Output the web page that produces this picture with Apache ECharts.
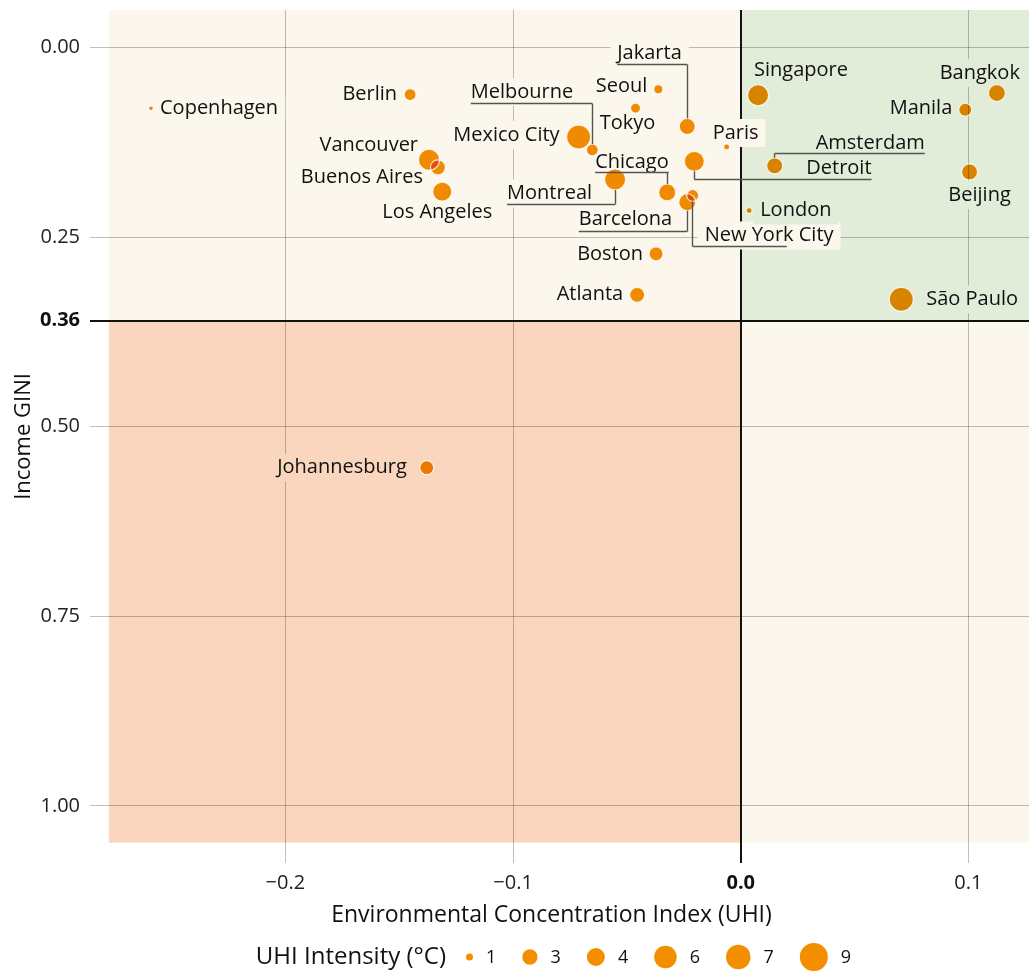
<!DOCTYPE html>
<html>
<head>
<meta charset="utf-8">
<script src="https://cdn.jsdelivr.net/npm/echarts@6/dist/echarts.min.js"></script>
<style>
  html, body { margin: 0; padding: 0; background: #ffffff; }
  #chart { width: 1029px; height: 971px; }
</style>
</head>
<body>
<div id="chart"></div>
<script>
// ---- data -------------------------------------------------------------
const cities = ['Copenhagen', 'Berlin', 'Vancouver', 'Buenos Aires', 'Los Angeles', 'Johannesburg',
  'Mexico City', 'Melbourne', 'Seoul', 'Tokyo', 'Jakarta', 'Chicago', 'Montreal', 'Barcelona',
  'New York City', 'Detroit', 'Paris', 'London', 'Boston', 'Atlanta', 'Singapore', 'Bangkok',
  'Manila', 'Beijing', 'São Paulo', 'Amsterdam'];
// Environmental Concentration Index (UHI)
const eci = [-0.2590, -0.1452, -0.1369, -0.1330, -0.1311, -0.1379,
  -0.0712, -0.0652, -0.0362, -0.0462, -0.0235, -0.0323, -0.0552, -0.0235,
  -0.0211, -0.0204, -0.0062, 0.0037, -0.0372, -0.0455, 0.0076, 0.1125,
  0.0986, 0.1005, 0.0705, 0.0149];
// Income GINI
const gini = [0.080, 0.062, 0.148, 0.158, 0.190, 0.554,
  0.118, 0.135, 0.055, 0.080, 0.104, 0.191, 0.174, 0.204,
  0.195, 0.150, 0.131, 0.215, 0.272, 0.326, 0.063, 0.060,
  0.082, 0.164, 0.332, 0.156];
// UHI intensity (°C)
const uhi = [0.7, 2.0, 5.3, 2.9, 4.4, 2.6,
  6.7, 2.0, 1.35, 1.55, 3.25, 3.6, 5.3, 3.6,
  2.0, 4.8, 0.86, 0.86, 2.6, 2.9, 5.3, 3.6,
  2.3, 3.25, 6.7, 3.25];

const xTicks = [-0.2, -0.1, 0, 0.1];
const yGridTicks = [0, 0.25, 0.5, 0.75, 1];
const yTickLabels = [0, 0.25, 0.36, 0.5, 0.75, 1];
const legendValues = [1, 3, 4, 6, 7, 9];
const ECI_SPLIT = 0;      // quadrant split on the x axis
const GINI_SPLIT = 0.36;  // quadrant split on the y axis

// ---- layout & style ---------------------------------------------------
const X_MIN = -0.2858, X_MAX = 0.1266;
const Y_MIN = -0.0495, Y_MAX = 1.0753;
const PANEL_X0 = -0.2775, PANEL_Y1 = 1.0485;
const FONT = '"Open Sans", "Noto Sans", sans-serif';
const LABEL_SIZE = 20;
const TEXT = '#111111';
const ORANGE = '#f38e00';
const BEIGE = '#fcf7ec', GREEN = '#e1ecd9', PEACH = '#f9d6bd';
const quadrantFill = [BEIGE, GREEN, PEACH, BEIGE];

// bubble diameter: area grows linearly with intensity
function sizeOf(v) { return Math.sqrt(Math.max(4, 92 * v - 43)); }

// label anchor offsets (px from the bubble centre); leader = underline offset
const labelPlacement = {
  'Copenhagen':    { dx: 9,   dy: 0,   align: 'left' },
  'Berlin':        { dx: -13, dy: 0,   align: 'right' },
  'Vancouver':     { dx: -11, dy: -14, align: 'right' },
  'Buenos Aires':  { dx: -15, dy: 10,  align: 'right' },
  'Los Angeles':   { dx: -5,  dy: 21,  align: 'center' },
  'Johannesburg':  { dx: -20, dy: 0,   align: 'right' },
  'Mexico City':   { dx: -19, dy: -2,  align: 'right' },
  'Melbourne':     { dx: -19, dy: -58, align: 'right', leader: -46 },
  'Seoul':         { dx: -11, dy: -3,  align: 'right' },
  'Tokyo':         { dx: -8,  dy: 15,  align: 'center' },
  'Jakarta':       { dx: -70, dy: -73, align: 'left', leader: -62 },
  'Chicago':       { dx: -72, dy: -30, align: 'left', leader: -20 },
  'Montreal':      { dx: -23, dy: 14,  align: 'right', leader: 25 },
  'Barcelona':     { dx: -15, dy: 17,  align: 'right', leader: 29 },
  'New York City': { dx: 12,  dy: 40,  align: 'left', leader: 51, leaderEnd: 94 },
  'Detroit':       { dx: 112, dy: 7,   align: 'left', leader: 18 },
  'Paris':         { dx: -14, dy: -14, align: 'left' },
  'London':        { dx: 11,  dy: 0,   align: 'left' },
  'Boston':        { dx: -13, dy: 0,   align: 'right' },
  'Atlanta':       { dx: -14, dy: 0,   align: 'right' },
  'Singapore':     { dx: -4,  dy: -25, align: 'left' },
  'Bangkok':       { dx: 23,  dy: -20, align: 'right' },
  'Manila':        { dx: -13, dy: -1,  align: 'right' },
  'Beijing':       { dx: 10,  dy: 23,  align: 'center' },
  'São Paulo':     { dx: 25,  dy: 0,   align: 'left' },
  'Amsterdam':     { dx: 41,  dy: -23, align: 'left', leader: -12 }
};

const measureCtx = document.createElement('canvas').getContext('2d');
function textWidth(text, size, weight) {
  measureCtx.font = (weight || 'normal') + ' ' + size + 'px ' + FONT;
  return measureCtx.measureText(text).width;
}
function crisp(v) { return Math.round(v - 0.5) + 0.5; }

// pixel box of a city label, relative to its bubble position p
function labelBox(name, p) {
  const L = labelPlacement[name];
  const w = textWidth(name, LABEL_SIZE);
  const ax = p[0] + L.dx, ay = p[1] + L.dy;
  const tl = L.align === 'right' ? ax - w : (L.align === 'center' ? ax - w / 2 : ax);
  return { L: L, ax: ax, ay: ay, tl: tl, tr: tl + w };
}

const points = cities.map((c, i) => [eci[i], gini[i], uhi[i]]);

// ---- size legend (graphic row) ----------------------------------------
const LEGEND_Y = 957;
const legendGraphics = [{
  type: 'text', x: 446, y: LEGEND_Y, silent: true,
  style: { text: 'UHI Intensity (°C)', fontSize: 24, fontFamily: FONT, fill: TEXT,
           textAlign: 'right', textVerticalAlign: 'middle' }
}];
let cursor = 466;
legendValues.forEach(v => {
  const r = sizeOf(v) / 2;
  const cx = cursor + r;
  legendGraphics.push({ type: 'circle', silent: true, shape: { cx: cx, cy: LEGEND_Y, r: r }, style: { fill: ORANGE } });
  const lx = cx + r + 13;
  const label = String(v);
  legendGraphics.push({
    type: 'text', x: lx, y: LEGEND_Y + 1, silent: true,
    style: { text: label, fontSize: 18, fontFamily: FONT, fill: TEXT, textAlign: 'left', textVerticalAlign: 'middle' }
  });
  cursor = lx + textWidth(label, 18) + 26;
});

// ---- chart ------------------------------------------------------------
const chart = echarts.init(document.getElementById('chart'), null, { renderer: 'canvas' });

const option = {
  animation: false,
  backgroundColor: '#ffffff',
  grid: { left: 90, right: 0, top: 10, bottom: 108, containLabel: false, outerBoundsMode: 'none' },
  xAxis: {
    type: 'value', min: X_MIN, max: X_MAX,
    axisLine: { show: false }, axisTick: { show: false }, splitLine: { show: false },
    axisLabel: {
      customValues: xTicks, margin: 10, fontSize: 20, fontFamily: FONT, color: '#222222',
      formatter: v => Math.abs(v) < 1e-9 ? '{b|0.0}' : v.toFixed(1).replace('-', '\u2212'),
      rich: { b: { fontWeight: 'bold', fontSize: 20, fontFamily: FONT, color: TEXT } }
    },
    name: 'Environmental Concentration Index (UHI)', nameLocation: 'middle', nameGap: 41,
    nameTextStyle: { fontSize: 23, fontFamily: FONT, color: TEXT, padding: [0, 16, 0, 0] }
  },
  yAxis: {
    type: 'value', inverse: true, min: Y_MIN, max: Y_MAX,
    axisLine: { show: false }, axisTick: { show: false }, splitLine: { show: false },
    axisLabel: {
      customValues: yTickLabels, margin: 10, fontSize: 20, fontFamily: FONT, color: '#222222',
      formatter: v => Math.abs(v - GINI_SPLIT) < 1e-9 ? '{b|' + v.toFixed(2) + '}' : v.toFixed(2),
      rich: { b: { fontWeight: 'bold', fontSize: 20, fontFamily: FONT, color: TEXT } }
    },
    name: 'Income GINI', nameLocation: 'middle', nameGap: 55, nameMoveOverlap: false,
    nameTextStyle: { fontSize: 22, fontFamily: FONT, color: TEXT }
  },
  graphic: legendGraphics,
  series: [
    { // quadrant panels
      type: 'custom', z: 1, silent: true,
      data: [
        [PANEL_X0, Y_MIN, ECI_SPLIT, GINI_SPLIT],
        [ECI_SPLIT, Y_MIN, X_MAX, GINI_SPLIT],
        [PANEL_X0, GINI_SPLIT, ECI_SPLIT, PANEL_Y1],
        [ECI_SPLIT, GINI_SPLIT, X_MAX, PANEL_Y1]
      ],
      renderItem: (params, api) => {
        const a = api.coord([api.value(0), api.value(1)]);
        const b = api.coord([api.value(2), api.value(3)]);
        return {
          type: 'rect',
          shape: { x: Math.min(a[0], b[0]), y: Math.min(a[1], b[1]),
                   width: Math.abs(b[0] - a[0]), height: Math.abs(b[1] - a[1]) },
          style: { fill: quadrantFill[params.dataIndex] }
        };
      }
    },
    { // vertical grid lines
      type: 'custom', z: 2, silent: true,
      data: xTicks.map(v => [v, GINI_SPLIT]),
      renderItem: (params, api) => {
        const a = api.coord([api.value(0), Y_MIN]);
        const b = api.coord([api.value(0), Y_MAX]);
        const x = crisp(a[0]);
        return { type: 'line', shape: { x1: x, y1: a[1], x2: x, y2: b[1] },
                 style: { stroke: 'rgba(0,0,0,0.25)', lineWidth: 1 } };
      }
    },
    { // horizontal grid lines
      type: 'custom', z: 2, silent: true,
      data: yGridTicks.map(v => [ECI_SPLIT, v]),
      renderItem: (params, api) => {
        const a = api.coord([X_MIN, api.value(1)]);
        const b = api.coord([X_MAX, api.value(1)]);
        const y = crisp(a[1]);
        return { type: 'line', shape: { x1: a[0], y1: y, x2: b[0], y2: y },
                 style: { stroke: 'rgba(0,0,0,0.25)', lineWidth: 1 } };
      }
    },
    { // quadrant split lines
      type: 'custom', z: 3, silent: true,
      data: [[ECI_SPLIT, GINI_SPLIT]],
      renderItem: (params, api) => {
        const c = api.coord([api.value(0), api.value(1)]);
        const top = api.coord([api.value(0), Y_MIN]);
        const bottom = api.coord([api.value(0), Y_MAX]);
        const left = api.coord([X_MIN, api.value(1)]);
        const right = api.coord([X_MAX, api.value(1)]);
        const x = Math.round(c[0]), y = Math.round(c[1]);
        const st = { stroke: '#111111', lineWidth: 2 };
        return { type: 'group', children: [
          { type: 'line', shape: { x1: left[0], y1: y, x2: right[0], y2: y }, style: st },
          { type: 'line', shape: { x1: x, y1: top[1], x2: x, y2: bottom[1] }, style: st }
        ] };
      }
    },
    { // label backdrops in the colour of the panel under the label
      type: 'custom', z: 4, silent: true,
      data: points,
      renderItem: (params, api) => {
        const name = cities[params.dataIndex];
        const p = api.coord([api.value(0), api.value(1)]);
        const b = labelBox(name, p);
        const split = api.coord([ECI_SPLIT, GINI_SPLIT]);
        const right = b.tl > split[0];
        const low = b.ay > split[1];
        const fill = low ? (right ? BEIGE : PEACH) : (right ? GREEN : BEIGE);
        return { type: 'rect',
                 shape: { x: b.tl - 7, y: b.ay - 14, width: b.tr - b.tl + 14, height: 28 },
                 style: { fill: fill } };
      }
    },
    { // bubbles (multiplied onto the panels)
      type: 'scatter', z: 5, silent: true,
      blendMode: 'multiply',
      data: points,
      symbol: 'circle',
      symbolSize: v => sizeOf(v[2]),
      itemStyle: { color: ORANGE, opacity: 1 }
    },
    { // bubble outlines
      type: 'scatter', z: 6, silent: true,
      data: points,
      symbol: 'circle',
      symbolSize: v => sizeOf(v[2]),
      itemStyle: { color: 'rgba(0,0,0,0)', borderColor: '#ffffff', borderWidth: 1.2 }
    },
    { // city labels with leader lines
      type: 'custom', z: 7, silent: true,
      data: points,
      renderItem: (params, api) => {
        const name = cities[params.dataIndex];
        const p = api.coord([api.value(0), api.value(1)]);
        const r = sizeOf(api.value(2)) / 2;
        const b = labelBox(name, p);
        const L = b.L;
        const children = [{
          type: 'text',
          style: { x: b.ax, y: b.ay, text: name, fontSize: LABEL_SIZE, fontFamily: FONT, fill: TEXT,
                   textAlign: L.align, textVerticalAlign: 'middle' }
        }];
        if (L.leader != null) {
          const uy = crisp(p[1] + L.leader);
          const x0 = Math.min(b.tl, p[0]);
          const x1 = L.leaderEnd != null ? p[0] + L.leaderEnd : Math.max(b.tr, p[0]);
          const ls = { stroke: '#555555', lineWidth: 1.4 };
          const px = crisp(p[0]);
          children.push({ type: 'line', shape: { x1: x0, y1: uy, x2: x1, y2: uy }, style: ls });
          if (Math.abs(L.leader) > r) {
            const edge = p[1] + (L.leader < 0 ? -r : r);
            children.push({ type: 'line', shape: { x1: px, y1: uy, x2: px, y2: edge }, style: ls });
          }
        }
        return { type: 'group', children: children };
      }
    }
  ]
};

chart.setOption(option);
</script>
</body>
</html>
